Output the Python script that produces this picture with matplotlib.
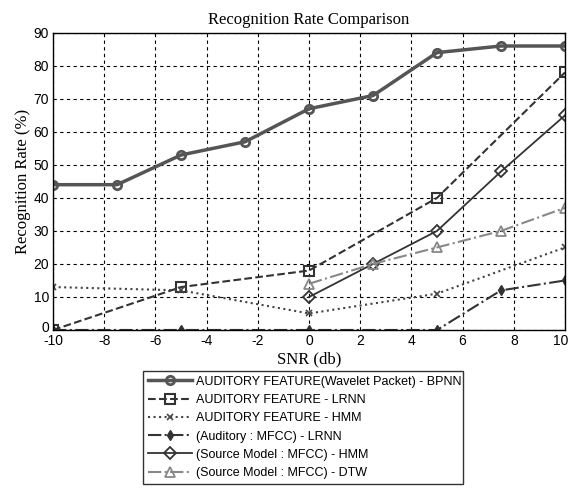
import matplotlib.pyplot as plt
import matplotlib.transforms as mtransforms
import numpy as np

snr_bp = [-10, -7.5, -5, -2.5, 0, 2.5, 5, 7.5, 10]
rate_bp = [44, 44, 53, 57, 67, 71, 84, 86, 86]
snr_5 = [-10, -5, 0, 5, 10]
rate_lrnn = [0, 13, 18, 40, 78]
rate_hmm = [13, 12, 5, 11, 25]
snr_mfcc = [-10, -5, 0, 5, 7.5, 10]
rate_mfcc_lrnn = [0, 0, 0, 0, 12, 15]
snr_src = [0, 2.5, 5, 7.5, 10]
rate_src_hmm = [10, 20, 30, 48, 65]
rate_src_dtw = [14, 20, 25, 30, 37]

labels = ["AUDITORY FEATURE(Wavelet Packet) - BPNN",
          "AUDITORY FEATURE - LRNN",
          "AUDITORY FEATURE - HMM",
          "(Auditory : MFCC) - LRNN",
          "(Source Model : MFCC) - HMM",
          "(Source Model : MFCC) - DTW"]

plt.rcParams['font.family'] = ['Liberation Sans']
plt.rcParams['axes.unicode_minus'] = False
fig = plt.figure(figsize=(5.71, 4.88), dpi=100)
ax = fig.add_axes([0.093, 0.3238, 0.8965, 0.609])

lines = []
lines += ax.plot(snr_bp, rate_bp, '-o', color='#555555', lw=2.5, ms=6, mfc='none', mew=2, label=labels[0])
lines += ax.plot(snr_5, rate_lrnn, '--s', color='#333333', lw=1.5, ms=7, mfc='none', mew=1.5, label=labels[1])
lines += ax.plot(snr_5, rate_hmm, ':x', color='#444444', lw=1.5, ms=4, mew=1.2, label=labels[2])
lines += ax.plot(snr_mfcc, rate_mfcc_lrnn, '-.d', color='#333333', lw=1.5, ms=5, mfc='#333333', label=labels[3])
lines += ax.plot(snr_src, rate_src_hmm, '-D', color='#333333', lw=1.3, ms=6, mfc='none', mew=1.3, label=labels[4])
lines += ax.plot(snr_src, rate_src_dtw, '-.^', color='#888888', lw=1.5, ms=7, mfc='none', mew=1.3, label=labels[5])

ax.set_xlim(-10, 10)
ax.set_ylim(0, 90)
ax.set_xticks(np.arange(-10, 11, 2))
ax.set_yticks(np.arange(0, 91, 10))
ax.grid(True, color='black', linestyle=(0, (3, 3)), linewidth=0.8)
ax.tick_params(direction='in', labelsize=10, length=0, pad=3)
for s in ax.spines.values():
    s.set_linewidth(1)

# nudge the corner labels so they stay inside the picture and apart
fig.canvas.draw()
xl = ax.get_xticklabels()
xl[-1].set_transform(xl[-1].get_transform() + mtransforms.Affine2D().translate(-4, 0))
yl = ax.get_yticklabels()
yl[0].set_transform(yl[0].get_transform() + mtransforms.Affine2D().translate(0, 3))

ax.set_title("Recognition Rate Comparison", family='Liberation Serif', fontsize=12, pad=6)
ax.set_xlabel("SNR (db)", family='Liberation Serif', fontsize=12, labelpad=2)
ax.set_ylabel("Recognition Rate (%)", family='Liberation Serif', fontsize=12, labelpad=2)

leg = fig.legend(handles=lines, loc='lower left', bbox_to_anchor=(0.25, 0.008, 0.56, 0.242),
                 mode='expand', fontsize=9, frameon=True, fancybox=False, edgecolor='black',
                 handlelength=3.5, borderaxespad=0, labelspacing=0.5, handletextpad=0.4,
                 borderpad=0.4)
leg.get_frame().set_linewidth(1)

fig.savefig("out.png", dpi=100)
